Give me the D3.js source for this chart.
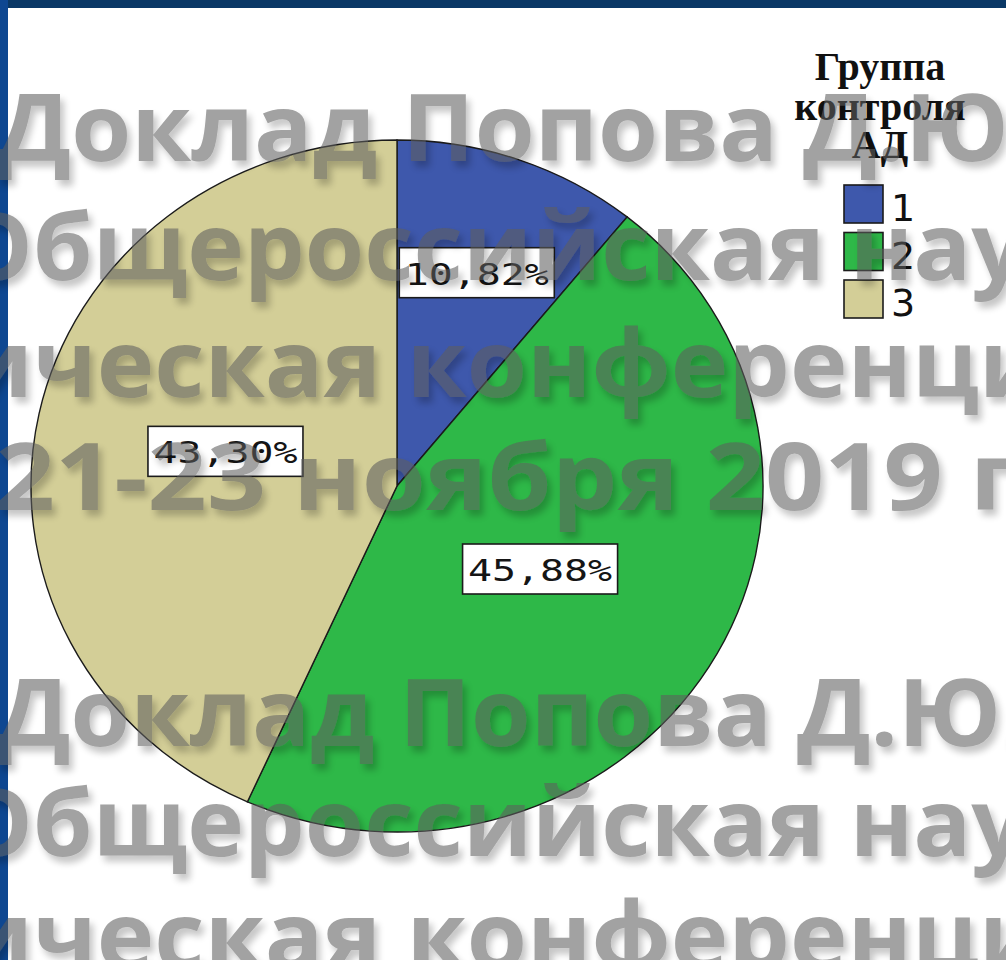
<!DOCTYPE html>
<html>
<head>
<meta charset="utf-8">
<script src="https://cdn.jsdelivr.net/npm/d3@7"></script>
<style>
  html, body { margin: 0; padding: 0; background: #fff; }
  svg { display: block; }
</style>
</head>
<body>
<svg id="chart" width="1006" height="960"></svg>
<script>
// data
var groups = ["1", "2", "3"];
var shares = [10.82, 45.88, 43.30];
var colors = ["#3E58AC", "#2EB848", "#D3CE97"];
var legendTitle = ["Группа", "контроля", "АД"];
var watermarkLines = [
    "Доклад Попова Д.Ю.",
    "Общероссийская научно",
    "ическая конференция",
    "21-23 ноября 2019 г.",
    "Доклад Попова Д.Ю.",
    "Общероссийская научно",
    "ическая конференция"
];

var svg = d3.select("#chart");
var W = 1006, H = 960;

// slide frame
svg.append("rect").attr("x", 0).attr("y", 0).attr("width", W).attr("height", H).attr("fill", "#fff");
svg.append("rect").attr("x", 0).attr("y", 0).attr("width", W).attr("height", 8).attr("fill", "#0a3866");
svg.append("rect").attr("x", 0).attr("y", 0).attr("width", 8).attr("height", H).attr("fill", "#0e4791");

// pie (slightly wider than tall, as in the picture)
var cx = 397, cy = 486, rx = 366, ry = 346;
var pie = d3.pie().sort(null).value(d => d);
var arcs = pie(shares);
var arc = d3.arc().innerRadius(0).outerRadius(ry);

var pieG = svg.append("g")
    .attr("transform", `translate(${cx},${cy}) scale(${rx / ry},1)`);

pieG.selectAll("path")
    .data(arcs)
    .enter()
    .append("path")
    .attr("d", arc)
    .attr("fill", (d, i) => colors[i])
    .attr("stroke", "#1b1b1b")
    .attr("stroke-width", 1.4)
    .attr("vector-effect", "non-scaling-stroke");

// labels sit at the area centroid of each slice
function labelPos(d) {
    var theta = d.endAngle - d.startAngle;
    var k = 4 * Math.sin(theta / 2) / (3 * theta);
    var mid = (d.startAngle + d.endAngle) / 2;
    return [cx + rx * k * Math.sin(mid), cy - ry * k * Math.cos(mid)];
}

var fmt = v => v.toFixed(2).replace(".", ",") + "%";
var boxW = 155, boxH = 50;

var labels = svg.selectAll("g.lbl")
    .data(arcs)
    .enter()
    .append("g")
    .attr("class", "lbl")
    .attr("transform", d => { var p = labelPos(d); return `translate(${p[0]},${p[1]})`; });

labels.append("rect")
    .attr("x", -boxW / 2).attr("y", -boxH / 2)
    .attr("width", boxW).attr("height", boxH)
    .attr("fill", "#fff")
    .attr("stroke", "#1b1b1b")
    .attr("stroke-width", 1.6);

labels.append("text")
    .attr("x", 0).attr("y", 12)
    .attr("text-anchor", "middle")
    .attr("font-family", "DejaVu Sans Mono")
    .attr("font-size", 31)
    .attr("textLength", 144)
    .attr("lengthAdjust", "spacingAndGlyphs")
    .attr("fill", "#151515")
    .text(d => fmt(d.value));

// legend
var legX = 880;
var titleY = [80, 120, 158];
svg.selectAll("text.ltitle")
    .data(legendTitle)
    .enter()
    .append("text")
    .attr("class", "ltitle")
    .attr("x", legX)
    .attr("y", (d, i) => titleY[i])
    .attr("text-anchor", "middle")
    .attr("font-family", "Liberation Serif")
    .attr("font-weight", "bold")
    .attr("font-size", 40)
    .attr("fill", "#111")
    .text(d => d);

var sw = 39, swStep = 47.5, swX = 844, swY = 185;
var leg = svg.selectAll("g.leg")
    .data(groups)
    .enter()
    .append("g")
    .attr("class", "leg")
    .attr("transform", (d, i) => `translate(${swX},${swY + i * swStep})`);

leg.append("rect")
    .attr("width", sw).attr("height", 38)
    .attr("fill", (d, i) => colors[i])
    .attr("stroke", "#1b1b1b")
    .attr("stroke-width", 1.6);

leg.append("text")
    .attr("x", 47).attr("y", 36)
    .attr("font-family", "DejaVu Sans")
    .attr("font-size", 38)
    .attr("fill", "#111")
    .text(d => d);

// watermark over everything
var defs = svg.append("defs");
var f = defs.append("filter").attr("id", "shadow")
    .attr("x", "-10%").attr("y", "-30%").attr("width", "130%").attr("height", "170%");
f.append("feGaussianBlur").attr("in", "SourceAlpha").attr("stdDeviation", 3.5).attr("result", "b");
f.append("feOffset").attr("in", "b").attr("dx", 4).attr("dy", 6).attr("result", "o");
f.append("feComponentTransfer").attr("in", "o").attr("result", "s")
    .append("feFuncA").attr("type", "linear").attr("slope", 0.4);
var m = f.append("feMerge");
m.append("feMergeNode").attr("in", "s");
m.append("feMergeNode").attr("in", "SourceGraphic");

// per line: baseline, and two anchors (start of char i1 at x1, end of char i2 at x2)
var wmFit = [
    { y: 161, i1: 0, x1: -3, i2: 12, x2: 778 },
    { y: 280, i1: 1, x1: 33, i2: 13, x2: 825 },
    { y: 397, i1: 1, x1: 33, i2: 15, x2: 912 },
    { y: 510, i1: 1, x1: 55, i2: 16, x2: 943 },
    { y: 746, i1: 0, x1: -3, i2: 12, x2: 772 },
    { y: 856, i1: 1, x1: 33, i2: 13, x2: 825 },
    { y: 969, i1: 1, x1: 33, i2: 15, x2: 912 }
];

var wm = svg.append("g")
    .attr("opacity", 0.58)
    .attr("filter", "url(#shadow)");

wm.selectAll("text")
    .data(watermarkLines)
    .enter()
    .append("text")
    .attr("x", 0)
    .attr("y", 0)
    .attr("font-family", "Open Sans")
    .attr("font-weight", "bold")
    .attr("font-size", 94)
    .attr("fill", "#5e5e5e")
    .text(d => d)
    .each(function(d, i) {
        var p = wmFit[i];
        var s = this.getStartPositionOfChar(p.i1).x;
        var e = this.getEndPositionOfChar(p.i2).x;
        var k = (p.x2 - p.x1) / (e - s);
        var tx = p.x1 - s * k;
        d3.select(this).attr("transform", `translate(${tx},${p.y}) scale(${k},1)`);
    });
</script>
</body>
</html>
